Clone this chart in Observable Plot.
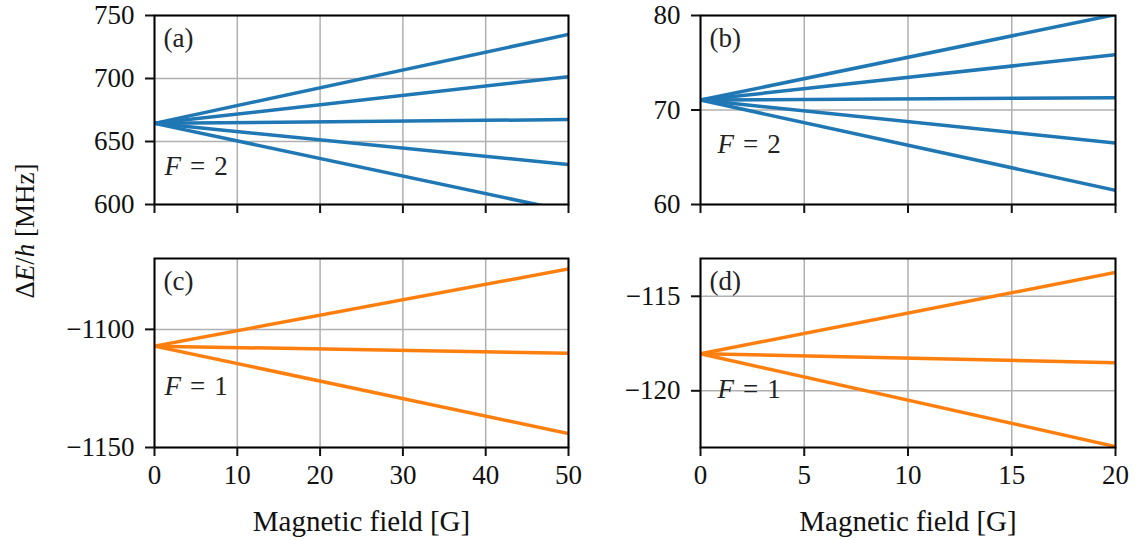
<!DOCTYPE html>
<html>
<head>
<meta charset="utf-8">
<script src="https://cdn.jsdelivr.net/npm/d3@7"></script>
<script src="https://cdn.jsdelivr.net/npm/@observablehq/plot@0.6"></script>
<style>
  html, body { margin: 0; padding: 0; background: white; }
  #chart { position: relative; width: 1146px; height: 540px; background: white; font-family: 'Liberation Serif', serif; }
  #chart svg { position: absolute; overflow: visible; }
  .ylab { position: absolute; left: 25px; top: 231px; transform: translate(-50%, -50%) rotate(-90deg); font-size: 27px; white-space: nowrap; color: #111; }
</style>
</head>
<body>
<div id="chart">
  <div class="ylab">Δ<i>E</i>/<i>h</i> [MHz]</div>
</div>
<script>
// Magnetic field endpoints (G)
const fieldLeft = [0, 50];
const fieldRight = [0, 20];
const ticksLeftX = [0, 10, 20, 30, 40, 50];
const ticksRightX = [0, 5, 10, 15, 20];

// Panel (a): F = 2, 0–50 G (MHz)
const panelA = [
  [664.4, 735.0],
  [664.4, 701.4],
  [664.4, 667.4],
  [664.4, 631.7],
  [664.4, 594.7]
];
// Panel (b): F = 2, 0–20 G (MHz)
const panelB = [
  [71.05, 80.1],
  [71.05, 75.85],
  [71.05, 71.3],
  [71.05, 66.5],
  [71.05, 61.5]
];
// Panel (c): F = 1, 0–50 G (MHz)
const panelC = [
  [-1107.1, -1074.4],
  [-1107.1, -1110.1],
  [-1107.1, -1144.1]
];
// Panel (d): F = 1, 0–20 G (MHz)
const panelD = [
  [-118.04, -113.74],
  [-118.04, -118.51],
  [-118.04, -122.95]
];

const yDomA = [600, 750], yTicksA = [600, 650, 700, 750];
const yDomB = [60, 80], yTicksB = [60, 70, 80];
const yDomC = [-1150, -1070], yTicksC = [-1150, -1100];
const yDomD = [-123, -113], yTicksD = [-120, -115];

const labels = ["(a)", "(b)", "(c)", "(d)"];
const fLabels = ["F = 2", "F = 2", "F = 1", "F = 1"];
const xLabel = "Magnetic field [G]";

const BLUE = "#1f77b4", ORANGE = "#ff7f0e";

function toRows(field, series) {
  const rows = [];
  series.forEach((vals, i) => vals.forEach((v, j) => rows.push({B: field[j], E: v, s: i})));
  return rows;
}

function panel(o) {
  const rows = toRows(o.field, o.series);
  const marks = [
    Plot.gridX({ticks: o.xTicks, stroke: "#b0b0b0", strokeOpacity: 1, strokeWidth: 1.5}),
    Plot.gridY({ticks: o.yTicks, stroke: "#b0b0b0", strokeOpacity: 1, strokeWidth: 1.5}),
    Plot.line(rows, {x: "B", y: "E", z: "s", stroke: o.color, strokeWidth: 3.5, clip: true}),
    Plot.frame({stroke: "black", strokeWidth: 2}),
    Plot.axisY({ticks: o.yTicks, tickSize: 9, tickPadding: 11, strokeWidth: 2, tickFormat: d3.format("d"), label: null, fill: "#111"}),
    Plot.axisX({ticks: o.xTicks, tickSize: 9, tickPadding: 8, strokeWidth: 2,
      tickFormat: o.showX ? d3.format("d") : () => "", label: null, fill: "#111"}),
    Plot.text([o.tag], {frameAnchor: "top-left", textAnchor: "start", lineAnchor: "top", dx: o.tagDx, dy: 12, fill: "#222"}),
    Plot.text([o.fLabel], {frameAnchor: "top-left", textAnchor: "start", lineAnchor: "top", dx: o.fDx, dy: o.fDy, fill: "#222"})
  ];
  if (o.showX) {
    marks.push(Plot.text([xLabel], {frameAnchor: "bottom", textAnchor: "middle", lineAnchor: "middle", dy: 74, fontSize: 29, fill: "#111"}));
  }
  const svg = Plot.plot({
    width: o.width, height: o.height,
    marginLeft: o.ml, marginRight: o.mr, marginTop: o.mt, marginBottom: o.mb,
    x: {domain: o.xDomain},
    y: {domain: o.yDomain},
    style: {fontFamily: "'Liberation Serif', serif", fontSize: "27px", background: "transparent", overflow: "visible", color: "#111"},
    marks
  });
  svg.style.left = o.left + "px";
  svg.style.top = o.top + "px";
  // italic F in the "F = n" annotation
  [...svg.querySelectorAll("text, tspan")]
    .filter(e => e.childElementCount === 0 && e.textContent.startsWith("F = "))
    .forEach(e => {
      const rest = e.textContent.slice(1);
      e.textContent = "";
      const t1 = document.createElementNS("http://www.w3.org/2000/svg", "tspan");
      t1.setAttribute("font-style", "italic");
      t1.textContent = "F";
      const t2 = document.createElementNS("http://www.w3.org/2000/svg", "tspan");
      t2.textContent = rest.replace(" = ", " \u200A=\u200A ");
      e.appendChild(t1); e.appendChild(t2);
    });
  document.getElementById("chart").appendChild(svg);
}

const L = {left: 0, width: 588, ml: 154, mr: 20};
const R = {left: 600, width: 546, ml: 100, mr: 31};
const T = {top: 0, height: 224, mt: 15, mb: 20};
const Bo = {top: 238, height: 302, mt: 20, mb: 93};

panel({...L, ...T, field: fieldLeft, series: panelA, xDomain: [0, 50], xTicks: ticksLeftX, yDomain: yDomA, yTicks: yTicksA,
  color: BLUE, tag: labels[0], tagDx: 9, fLabel: fLabels[0], fDx: 10, fDy: 140, showX: false});
panel({...R, ...T, field: fieldRight, series: panelB, xDomain: [0, 20], xTicks: ticksRightX, yDomain: yDomB, yTicks: yTicksB,
  color: BLUE, tag: labels[1], tagDx: 9, fLabel: fLabels[1], fDx: 17, fDy: 118, showX: false});
panel({...L, ...Bo, field: fieldLeft, series: panelC, xDomain: [0, 50], xTicks: ticksLeftX, yDomain: yDomC, yTicks: yTicksC,
  color: ORANGE, tag: labels[2], tagDx: 9, fLabel: fLabels[2], fDx: 10, fDy: 117, showX: true});
panel({...R, ...Bo, field: fieldRight, series: panelD, xDomain: [0, 20], xTicks: ticksRightX, yDomain: yDomD, yTicks: yTicksD,
  color: ORANGE, tag: labels[3], tagDx: 9, fLabel: fLabels[3], fDx: 17, fDy: 120, showX: true});
</script>
</body>
</html>
